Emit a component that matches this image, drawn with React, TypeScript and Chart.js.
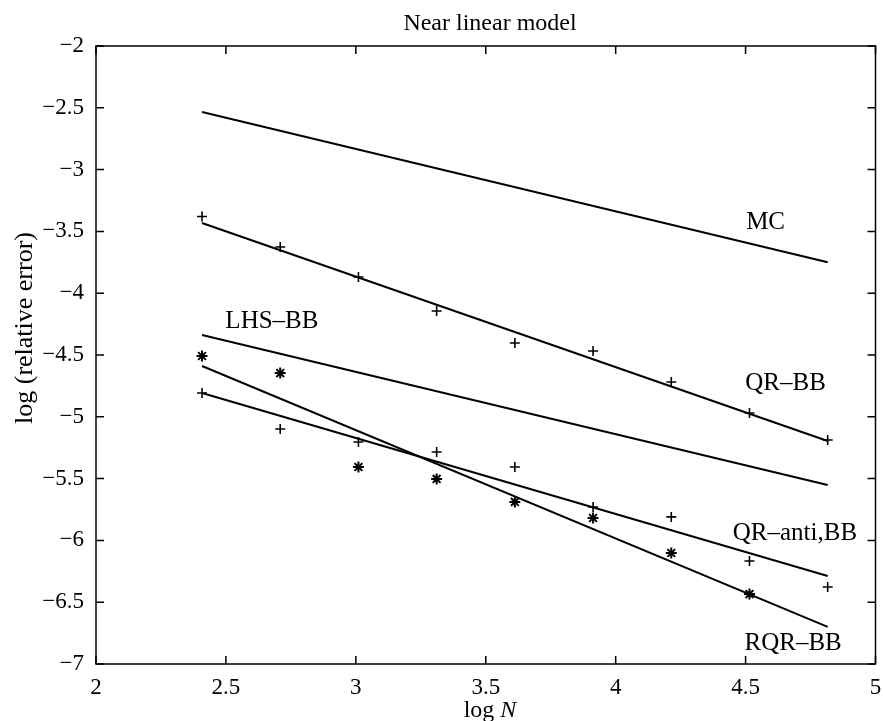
import React, { useEffect, useRef } from "react";
import { Chart, registerables } from "chart.js";

Chart.register(...registerables);

// ---- data ----
const logN = [2.408, 2.709, 3.01, 3.311, 3.612, 3.913, 4.214, 4.515, 4.816];
const lineEnds = [2.408, 4.816];

const mcLine = [-2.534, -3.75];
const qrbbLine = [-3.432, -5.196];
const lhsbbLine = [-4.338, -5.552];
const qrAntiLine = [-4.807, -6.288];
const rqrbbLine = [-4.589, -6.7];

const qrbbPoints = [-3.38, -3.626, -3.869, -4.144, -4.403, -4.468, -4.718, -4.969, -5.188];
const qrAntiPoints = [-4.807, -5.099, -5.204, -5.285, -5.406, -5.73, -5.81, -6.167, -6.377];
const rqrbbPoints = [-4.508, -4.646, -5.406, -5.503, -5.689, -5.819, -6.102, -6.434];

const xTickValues = [2, 2.5, 3, 3.5, 4, 4.5, 5];
const xTickLabels = ["2", "2.5", "3", "3.5", "4", "4.5", "5"];
const yTickValues = [-7, -6.5, -6, -5.5, -5, -4.5, -4, -3.5, -3, -2.5, -2];
const yTickLabels = ["\u22127", "\u22126.5", "\u22126", "\u22125.5", "\u22125", "\u22124.5", "\u22124", "\u22123.5", "\u22123", "\u22122.5", "\u22122"];

const titleText = "Near linear model";
const yAxisTitle = "log (relative error)";
const xAxisTitleA = "log ";
const xAxisTitleB = "N";

// text annotations placed in data coordinates (like MATLAB text())
const curveLabels = [
  { text: "MC", x: 4.577, y: -3.48 },
  { text: "QR\u2013BB", x: 4.654, y: -4.783 },
  { text: "LHS\u2013BB", x: 2.677, y: -4.282 },
  { text: "QR\u2013anti,BB", x: 4.69, y: -5.997 },
  { text: "RQR\u2013BB", x: 4.683, y: -6.887 },
];

const FONT = '"Liberation Serif", "Times New Roman", serif';

const pairs = (xs: number[], ys: number[]) => ys.map((y, i) => ({ x: xs[i], y }));

const framePlugin = {
  id: "frameAndText",
  afterDraw(chart: any) {
    const { ctx, chartArea } = chart;
    const xs = chart.scales.x;
    const ys = chart.scales.y;
    const { left, right, top, bottom } = chartArea;
    ctx.save();
    ctx.strokeStyle = "#000";
    ctx.lineWidth = 1.5;
    ctx.strokeRect(left, top, right - left, bottom - top);
    const tl = 8;
    ctx.beginPath();
    xTickValues.forEach((v) => {
      const px = xs.getPixelForValue(v);
      ctx.moveTo(px, bottom);
      ctx.lineTo(px, bottom - tl);
      ctx.moveTo(px, top);
      ctx.lineTo(px, top + tl);
    });
    yTickValues.forEach((v) => {
      const py = ys.getPixelForValue(v);
      ctx.moveTo(left, py);
      ctx.lineTo(left + tl, py);
      ctx.moveTo(right, py);
      ctx.lineTo(right - tl, py);
    });
    ctx.stroke();

    ctx.fillStyle = "#000";
    // curve labels
    ctx.font = `25px ${FONT}`;
    ctx.textAlign = "center";
    ctx.textBaseline = "alphabetic";
    curveLabels.forEach((l) => {
      ctx.fillText(l.text, xs.getPixelForValue(l.x), ys.getPixelForValue(l.y));
    });

    // title
    ctx.font = `24px ${FONT}`;
    ctx.fillText(titleText, 490, 30);

    // x axis title with italic N
    ctx.font = `24px ${FONT}`;
    const wA = ctx.measureText(xAxisTitleA).width;
    ctx.font = `italic 24px ${FONT}`;
    const wB = ctx.measureText(xAxisTitleB).width;
    const startX = 490 - (wA + wB) / 2;
    ctx.textAlign = "left";
    ctx.font = `24px ${FONT}`;
    ctx.fillText(xAxisTitleA, startX, 717);
    ctx.font = `italic 24px ${FONT}`;
    ctx.fillText(xAxisTitleB, startX + wA, 717);

    // y axis title
    ctx.translate(32, 328);
    ctx.rotate(-Math.PI / 2);
    ctx.textAlign = "center";
    ctx.font = `26px ${FONT}`;
    ctx.fillText(yAxisTitle, 0, 0);
    ctx.restore();
  },
};

export default function App() {
  const ref = useRef<HTMLCanvasElement | null>(null);
  useEffect(() => {
    if (!ref.current) return;
    const lineStyle = {
      showLine: true,
      borderColor: "#000",
      borderWidth: 2,
      pointRadius: 0,
      fill: false,
    };
    const markerStyle = {
      showLine: false,
      borderColor: "#000",
      backgroundColor: "#000",
      borderWidth: 1.6,
    };
    const chart = new Chart(ref.current, {
      type: "scatter",
      data: {
        datasets: [
          { label: "MC", data: pairs(lineEnds, mcLine), ...lineStyle },
          { label: "QR-BB fit", data: pairs(lineEnds, qrbbLine), ...lineStyle },
          { label: "LHS-BB", data: pairs(lineEnds, lhsbbLine), ...lineStyle },
          { label: "QR-anti,BB fit", data: pairs(lineEnds, qrAntiLine), ...lineStyle },
          { label: "RQR-BB fit", data: pairs(lineEnds, rqrbbLine), ...lineStyle },
          { label: "QR-BB", data: pairs(logN, qrbbPoints), ...markerStyle, pointStyle: "cross", pointRadius: 5 },
          { label: "QR-anti,BB", data: pairs(logN, qrAntiPoints), ...markerStyle, pointStyle: "cross", pointRadius: 5 },
          { label: "RQR-BB", data: pairs(logN, rqrbbPoints), ...markerStyle, pointStyle: "star", pointRadius: 5.5, borderWidth: 2 },
        ],
      } as any,
      options: {
        animation: false,
        responsive: false,
        devicePixelRatio: 1,
        layout: { padding: { left: 0, top: 46, right: 7, bottom: 0 } },
        plugins: {
          legend: { display: false },
          tooltip: { enabled: false },
          title: { display: false },
        },
        scales: {
          x: {
            type: "linear",
            min: 2,
            max: 5,
            grid: { display: false, drawTicks: false },
            border: { display: false },
            afterBuildTicks: (s: any) => {
              s.ticks = xTickValues.map((v) => ({ value: v }));
            },
            afterFit: (s: any) => {
              s.height = 57;
              s.paddingLeft = 0;
              s.paddingRight = 0;
            },
            ticks: {
              color: "#000",
              padding: 10,
              maxRotation: 0,
              autoSkip: false,
              font: { family: FONT, size: 23 },
              callback: (v: any) => {
                const i = xTickValues.indexOf(Number(v));
                return i >= 0 ? xTickLabels[i] : "";
              },
            },
          },
          y: {
            type: "linear",
            min: -7,
            max: -2,
            grid: { display: false, drawTicks: false },
            border: { display: false },
            afterBuildTicks: (s: any) => {
              s.ticks = yTickValues.map((v) => ({ value: v }));
            },
            afterFit: (s: any) => {
              s.width = 96;
              s.paddingTop = 0;
              s.paddingBottom = 0;
            },
            ticks: {
              color: "#000",
              padding: 12,
              autoSkip: false,
              font: { family: FONT, size: 23 },
              callback: (v: any) => {
                const i = yTickValues.indexOf(Number(v));
                return i >= 0 ? yTickLabels[i] : "";
              },
            },
          },
        },
      } as any,
      plugins: [framePlugin],
    });
    return () => chart.destroy();
  }, []);
  return (
    <div style={{ position: "absolute", left: 0, top: 0, width: 883, height: 721, background: "#fff" }}>
      <canvas ref={ref} width={883} height={721} style={{ width: 883, height: 721, display: "block" }} />
    </div>
  );
}
